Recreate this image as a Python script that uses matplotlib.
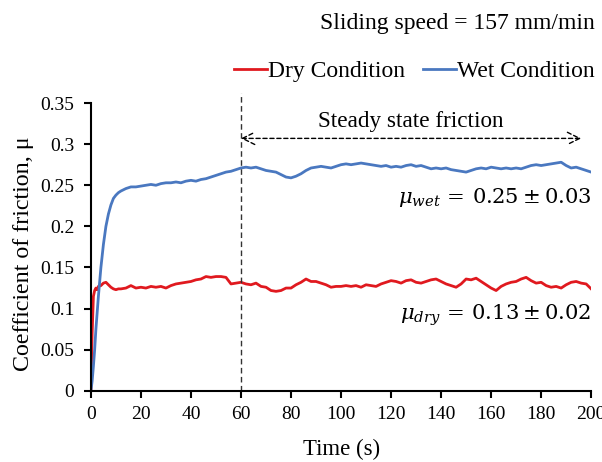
import matplotlib
matplotlib.use("Agg")
import matplotlib.pyplot as plt

plt.rcParams['font.family'] = ['Liberation Serif', 'DejaVu Serif']
plt.rcParams['mathtext.fontset'] = 'dejavuserif'

# tempi di campionamento (s)
time_s = [0, 0.5, 1, 1.5, 2, 2.5, 3, 4, 5, 6, 7, 8, 9, 10, 11] + list(range(12, 201, 2))

# coefficiente di attrito - condizione secca
dry = [0.0, 0.07, 0.115, 0.122, 0.125, 0.123, 0.127, 0.128, 0.131, 0.132, 0.129, 0.126, 0.124, 0.123, 0.124,
       0.124, 0.125, 0.128, 0.125, 0.126, 0.125, 0.127, 0.126, 0.127, 0.125,   # 12-30
       0.128, 0.130, 0.131, 0.132, 0.133, 0.135, 0.136, 0.139, 0.138, 0.139,   # 32-50
       0.139, 0.138, 0.130, 0.131, 0.132, 0.130, 0.129, 0.131, 0.127, 0.126,   # 52-70
       0.122, 0.121, 0.122, 0.125, 0.125, 0.129, 0.132, 0.136, 0.133, 0.133,   # 72-90
       0.131, 0.129, 0.126, 0.127, 0.127, 0.128, 0.127, 0.128, 0.126, 0.129,   # 92-110
       0.128, 0.127, 0.130, 0.132, 0.134, 0.133, 0.131, 0.134, 0.135, 0.132,   # 112-130
       0.131, 0.133, 0.135, 0.136, 0.133, 0.130, 0.128, 0.126, 0.130, 0.136,   # 132-150
       0.135, 0.137, 0.133, 0.129, 0.125, 0.122, 0.127, 0.130, 0.132, 0.133,   # 152-170
       0.136, 0.138, 0.134, 0.131, 0.132, 0.128, 0.126, 0.127, 0.125, 0.129,   # 172-190
       0.132, 0.133, 0.131, 0.130, 0.124]                                       # 192-200

# coefficiente di attrito - condizione bagnata
wet = [0.0, 0.012, 0.03, 0.05, 0.075, 0.095, 0.115, 0.15, 0.178, 0.200, 0.215, 0.226, 0.234, 0.238, 0.241,
       0.243, 0.246, 0.248, 0.248, 0.249, 0.250, 0.251, 0.250, 0.252, 0.253,   # 12-30
       0.253, 0.254, 0.253, 0.255, 0.256, 0.255, 0.257, 0.258, 0.260, 0.262,   # 32-50
       0.264, 0.266, 0.267, 0.269, 0.271, 0.272, 0.271, 0.272, 0.270, 0.268,   # 52-70
       0.267, 0.266, 0.263, 0.260, 0.259, 0.261, 0.264, 0.268, 0.271, 0.272,   # 72-90
       0.273, 0.272, 0.271, 0.273, 0.275, 0.276, 0.275, 0.276, 0.277, 0.276,   # 92-110
       0.275, 0.274, 0.273, 0.274, 0.272, 0.273, 0.272, 0.274, 0.275, 0.273,   # 112-130
       0.274, 0.272, 0.270, 0.271, 0.270, 0.271, 0.269, 0.268, 0.267, 0.266,   # 132-150
       0.268, 0.270, 0.271, 0.270, 0.272, 0.271, 0.270, 0.271, 0.270, 0.271,   # 152-170
       0.270, 0.272, 0.274, 0.275, 0.274, 0.275, 0.276, 0.277, 0.278, 0.274,   # 172-190
       0.271, 0.272, 0.270, 0.268, 0.266]                                       # 192-200

x_ticks = [0, 20, 40, 60, 80, 100, 120, 140, 160, 180, 200]
y_ticks = [0, 0.05, 0.1, 0.15, 0.2, 0.25, 0.3, 0.35]
y_tick_labels = ['0', '0.05', '0.1', '0.15', '0.2', '0.25', '0.3', '0.35']

fig = plt.figure(figsize=(6.02, 4.62), dpi=100)
ax = fig.add_axes([0.151, 0.154, 0.831, 0.623])

ax.plot(time_s, dry, color='#e0191f', lw=2.0, label='Dry Condition')
ax.plot(time_s, wet, color='#4a78c0', lw=2.0, label='Wet Condition')

# linea verticale inizio regime stazionario
ax.plot([60, 60], [0, 0.362], color='#333333', lw=1.0, ls=(0, (4, 2.5)), clip_on=False)
ax.annotate('', xy=(60, 0.307), xytext=(196, 0.307),
            arrowprops=dict(arrowstyle='<->', ls=(0, (3, 2)), lw=1.0, color='black',
                            shrinkA=0, shrinkB=0, mutation_scale=22))
ax.text(128, 0.321, 'Steady state friction', ha='center', va='baseline', fontsize=16.7)

ax.text(200, 0.229, r'$\mu_{wet}\,=\,0.25\pm0.03$', ha='right', va='baseline', fontsize=15.2)
ax.text(200, 0.086, r'$\mu_{dry}\,=\,0.13\pm0.02$', ha='right', va='baseline', fontsize=15.2)

ax.set_xlim(0, 200)
ax.set_ylim(0, 0.35)
ax.set_xticks(x_ticks)
ax.set_yticks(y_ticks)
ax.set_yticklabels(y_tick_labels)
ax.tick_params(labelsize=14, width=1.5, length=5, direction='out')
ax.tick_params(axis='x', pad=6)
ax.tick_params(axis='y', pad=7)
for s in ['top', 'right']:
    ax.spines[s].set_visible(False)
for s in ['left', 'bottom']:
    ax.spines[s].set_linewidth(1.5)

ax.set_xlabel('Time (s)', fontsize=16.4, va='center')
ax.xaxis.set_label_coords(0.502, -0.205)
ax.set_ylabel('Coefficient of friction, μ', fontsize=17.3, va='center')
ax.yaxis.set_label_coords(-0.134, 0.475)

fig.text(0.988, 0.937, 'Sliding speed = 157 mm/min', ha='right', va='baseline', fontsize=17)
fig.legend(loc='center right', bbox_to_anchor=(1.023, 0.846), ncol=2, frameon=False,
           fontsize=17, handlelength=1.4, handletextpad=0.05, columnspacing=0.75)

plt.savefig('out.png', dpi=100)
